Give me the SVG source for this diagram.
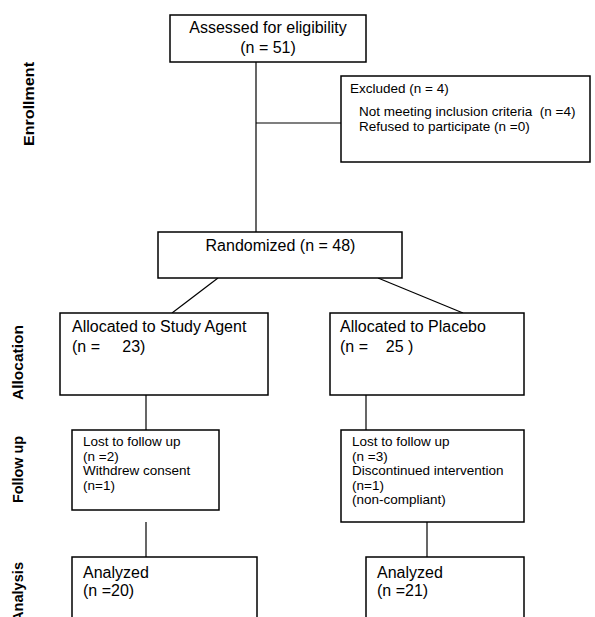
<svg xmlns="http://www.w3.org/2000/svg" width="595" height="617" viewBox="0 0 595 617">
<style>
.box{fill:#fff;stroke:#000;stroke-width:1.5}
.ln{stroke:#000;stroke-width:1.2;fill:none}
text{font-family:"Liberation Sans",Arial,sans-serif;fill:#000;white-space:pre}
.t16{font-size:16px}
.t13{font-size:13.5px}
.lab{font-size:15px;font-weight:bold}
</style>
<rect width="595" height="617" fill="#fff"/>
<g id="stage-labels">
<text class="lab" transform="translate(34,146) rotate(-90)" textLength="84" lengthAdjust="spacingAndGlyphs">Enrollment</text>
<text class="lab" transform="translate(23,400) rotate(-90)" textLength="75" lengthAdjust="spacingAndGlyphs">Allocation</text>
<text class="lab" transform="translate(23,503) rotate(-90)" textLength="67" lengthAdjust="spacingAndGlyphs">Follow up</text>
<text class="lab" transform="translate(23,622) rotate(-90)" textLength="60" lengthAdjust="spacingAndGlyphs">Analysis</text>
</g>
<g id="connectors">
<line class="ln" x1="256" y1="62" x2="256" y2="232"/>
<line class="ln" x1="256" y1="123" x2="341" y2="123"/>
<line class="ln" x1="218" y1="278" x2="172" y2="313"/>
<line class="ln" x1="378" y1="278" x2="463" y2="313"/>
<line class="ln" x1="146" y1="395" x2="146" y2="430"/>
<line class="ln" x1="366" y1="395" x2="366" y2="430"/>
<line class="ln" x1="146" y1="522" x2="146" y2="557"/>
<line class="ln" x1="427" y1="522" x2="427" y2="557"/>
</g>
<g id="assessed">
<rect class="box" x="170" y="15" width="196" height="47"/>
<text class="t16" x="268" y="33" text-anchor="middle">Assessed for eligibility</text>
<text class="t16" x="268" y="53" text-anchor="middle">(n = 51)</text>
</g>
<g id="excluded">
<rect class="box" x="341" y="76" width="249" height="86"/>
<text class="t13" x="350" y="93">Excluded (n = 4)</text>
<text class="t13" x="359" y="116">Not meeting inclusion criteria  (n =4)</text>
<text class="t13" x="359" y="131">Refused to participate (n =0)</text>
</g>
<g id="randomized">
<rect class="box" x="158" y="232" width="244" height="46"/>
<text class="t16" x="280.5" y="251" text-anchor="middle">Randomized (n = 48)</text>
</g>
<g id="alloc-agent">
<rect class="box" x="60" y="313" width="208" height="82"/>
<text class="t16" x="72" y="332">Allocated to Study Agent</text>
<text class="t16" x="72" y="352">(n =     23)</text>
</g>
<g id="alloc-placebo">
<rect class="box" x="330" y="313" width="194" height="82"/>
<text class="t16" x="340" y="332">Allocated to Placebo</text>
<text class="t16" x="340" y="352">(n =    25 )</text>
</g>
<g id="followup-agent">
<rect class="box" x="72" y="430" width="147" height="80"/>
<text class="t13" x="83" y="446">Lost to follow up</text>
<text class="t13" x="83" y="460.5">(n =2)</text>
<text class="t13" x="83" y="475">Withdrew consent</text>
<text class="t13" x="83" y="489.5">(n=1)</text>
</g>
<g id="followup-placebo">
<rect class="box" x="341" y="430" width="183" height="92"/>
<text class="t13" x="352" y="446">Lost to follow up</text>
<text class="t13" x="352" y="460.5">(n =3)</text>
<text class="t13" x="352" y="475">Discontinued intervention</text>
<text class="t13" x="352" y="489.5">(n=1)</text>
<text class="t13" x="352" y="504">(non-compliant)</text>
</g>
<g id="analyzed-agent">
<rect class="box" x="72" y="557" width="185" height="70"/>
<text class="t16" x="83" y="578">Analyzed</text>
<text class="t16" x="83" y="596">(n =20)</text>
</g>
<g id="analyzed-placebo">
<rect class="box" x="366" y="557" width="158" height="70"/>
<text class="t16" x="377" y="578">Analyzed</text>
<text class="t16" x="377" y="596">(n =21)</text>
</g>
</svg>
